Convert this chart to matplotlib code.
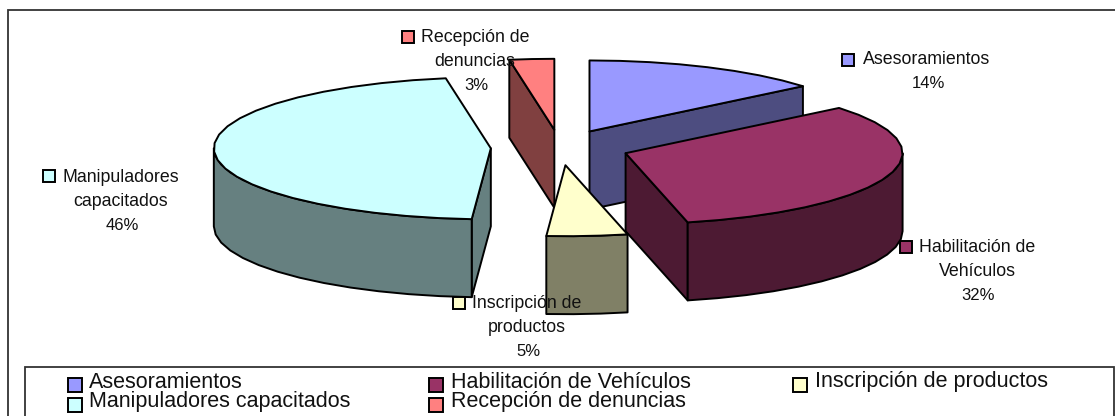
import numpy as np
import matplotlib.pyplot as plt
from matplotlib.patches import Polygon, Rectangle

categories = ["Asesoramientos", "Habilitación de Vehículos", "Inscripción de productos",
              "Manipuladores capacitados", "Recepción de denuncias"]
values = [14.0, 32.4, 4.7, 46.3, 2.6]
top_colors = ["#9999FF", "#993366", "#FFFFCC", "#CCFFFF", "#FF8080"]
side_colors = ["#4D4D80", "#4D1A33", "#808066", "#668080", "#804040"]

# label text wrapped as in the original, and where each label sits (pixels)
label_lines = [["Asesoramientos"], ["Habilitación de", "Vehículos"], ["Inscripción de", "productos"],
               ["Manipuladores", "capacitados"], ["Recepción de", "denuncias"]]
label_xy = [(927, 60), (977, 248), (527, 303), (121, 177), (475, 37)]
key_xy = [(848, 60), (906, 247), (459, 303), (49, 176), (408, 37)]

# drawing order of the slices, back to front
draw_order = [4, 0, 3, 1, 2]

legend_key_x = [68, 429, 793]
legend_text_x = [89, 451, 815]
legend_row_y = [382, 402]
legend_pos = [(0, 0), (1, 0), (2, 0), (0, 1), (1, 1)]

W, H = 1115, 416
cx, cy = 560, 147.5
rx, ry = 277, 71
depth = 78
explode = 0.25
edge = "black"
lw = 1.4

plt.rcParams["font.family"] = ["Liberation Sans", "DejaVu Sans"]

fig = plt.figure(figsize=(W / 100, H / 100), dpi=100)
ax = fig.add_axes([0, 0, 1, 1])
ax.set_xlim(0, W)
ax.set_ylim(H, 0)
ax.set_axis_off()

# outer frame runs off the right and bottom of the picture
ax.add_patch(Rectangle((7.5, 10), 1300, 500, fc="white", ec="#333333", lw=1.3, zorder=0))


def pt(center, ang):
    return center[0] + rx * np.sin(ang), center[1] - ry * np.cos(ang)


def extrude(ax, verts, color, z):
    verts = list(map(tuple, verts))
    verts = verts + [(x, y + depth) for x, y in verts[::-1]]
    ax.add_patch(Polygon(verts, fc=color, ec=edge, lw=lw, joinstyle="round", zorder=z))


fracs = np.array(values) / np.sum(values)
starts = np.concatenate([[0], np.cumsum(fracs)[:-1]]) * 2 * np.pi
ends = np.cumsum(fracs) * 2 * np.pi

z = 1
for i in draw_order:
    mid = (starts[i] + ends[i]) / 2
    center = (cx + explode * rx * np.sin(mid), cy - explode * ry * np.cos(mid))
    angs = np.linspace(starts[i], ends[i], max(3, int((ends[i] - starts[i]) / np.radians(7)) + 2))
    arc = np.array([pt(center, a) for a in angs])

    # cut faces, only the ones turned to the viewer
    if np.sin(starts[i]) < 0:
        extrude(ax, [center, pt(center, starts[i])], side_colors[i], z)
        z += 1
    if np.sin(ends[i]) > 0:
        extrude(ax, [center, pt(center, ends[i])], side_colors[i], z)
        z += 1

    # rim on the front half of the ellipse
    lo = max(starts[i], np.pi / 2)
    hi = min(ends[i], 3 * np.pi / 2)
    if hi > lo:
        rim = np.linspace(lo, hi, int((hi - lo) / np.radians(7)) + 2)
        extrude(ax, [pt(center, a) for a in rim], side_colors[i], z)
        z += 1

    # top surface
    ax.add_patch(Polygon([center] + list(map(tuple, arc)), fc=top_colors[i], ec=edge, lw=lw,
                         joinstyle="round", zorder=z))
    z += 1

z += 10
# data labels
for i, name in enumerate(categories):
    lx, ly = label_xy[i]
    for k, line in enumerate(label_lines[i]):
        ax.text(lx, ly + k * 24, line, ha="center", va="center", fontsize=12.8, color="#111111", zorder=z)
    ax.text(lx + 1, ly + len(label_lines[i]) * 24, f"{values[i]:.0f}%", ha="center", va="center",
            fontsize=12, color="#111111", zorder=z)
    kx, ky = key_xy[i]
    ax.add_patch(Rectangle((kx - 6, ky - 6), 12, 12, fc=top_colors[i], ec=edge, lw=lw, zorder=z))

# legend box, also cut off by the picture
ax.add_patch(Rectangle((25, 367), 1089, 100, fc="white", ec="#333333", lw=1.3, zorder=z))
for i, name in enumerate(categories):
    col, row = legend_pos[i]
    y = legend_row_y[row]
    ax.add_patch(Rectangle((legend_key_x[col], y - 4), 14, 14, fc=top_colors[i], ec=edge, lw=lw, zorder=z + 1))
    ax.text(legend_text_x[col], y, name, ha="left", va="center", fontsize=15.5, color="#111111", zorder=z + 1)

fig.savefig("out.png", dpi=100)
